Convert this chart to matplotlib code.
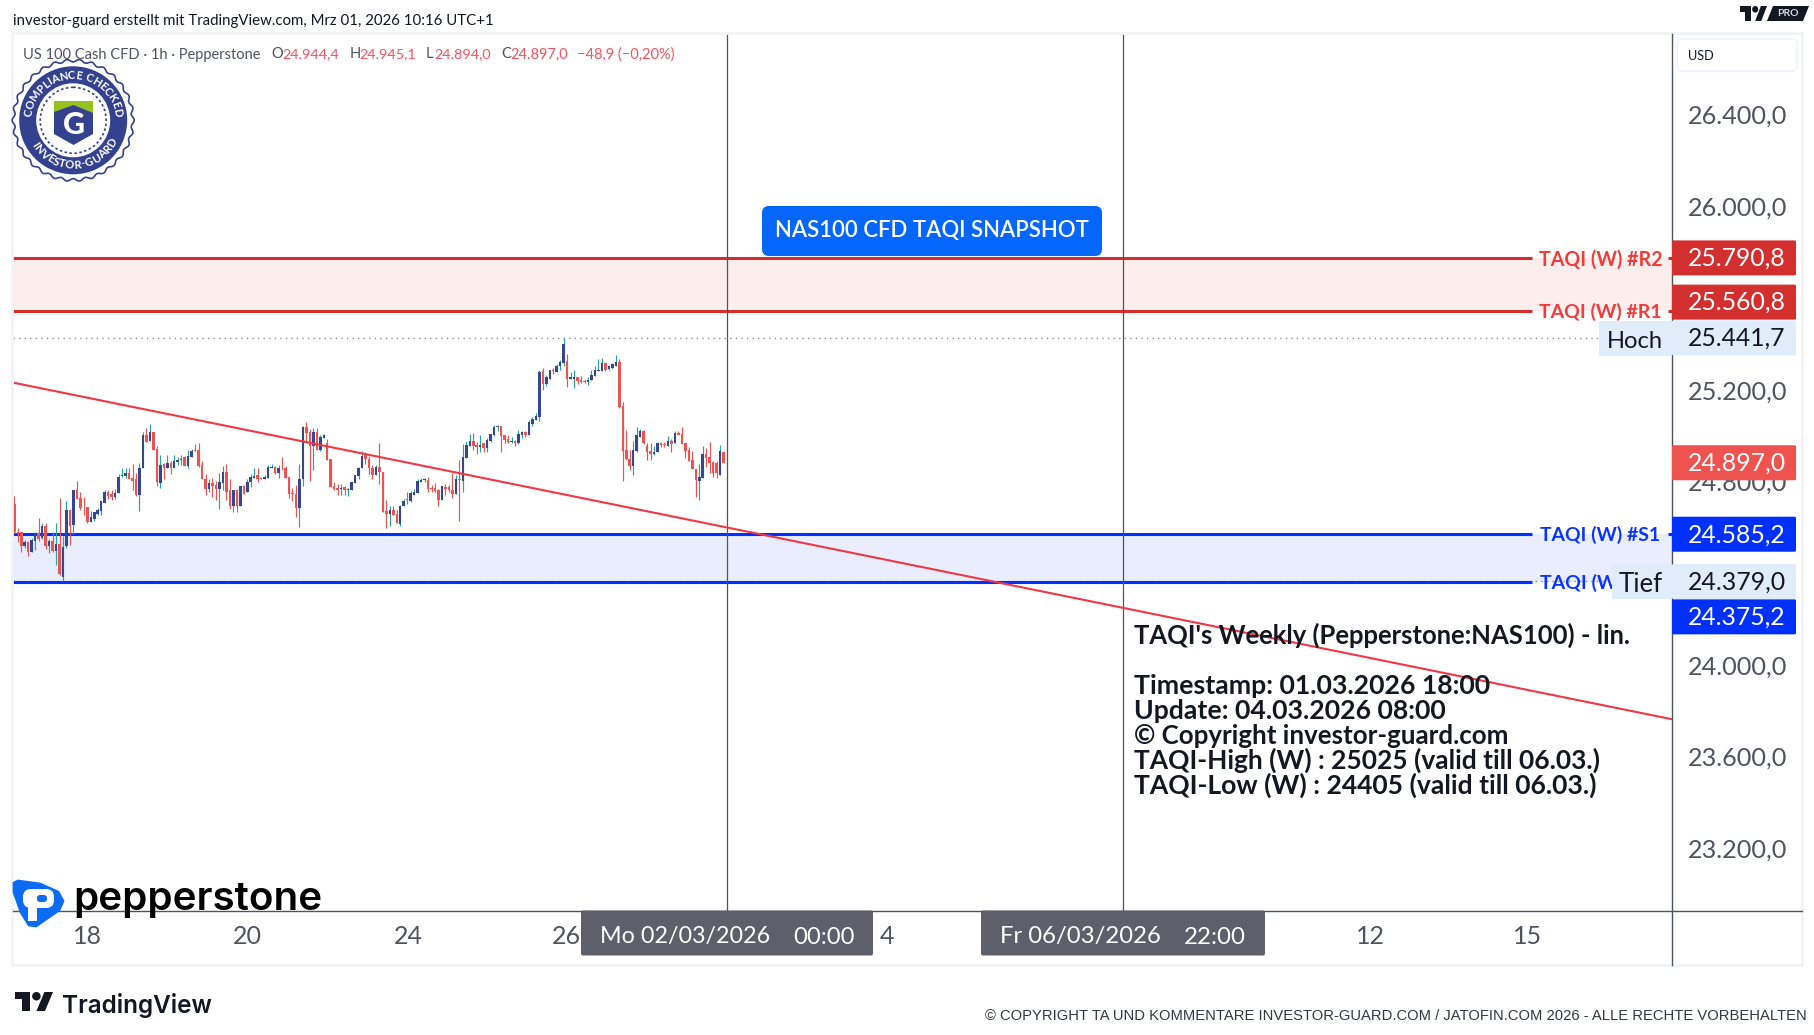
import numpy as np
import matplotlib
matplotlib.use("Agg")
import matplotlib.pyplot as plt
from matplotlib.patches import Polygon, Circle, FancyBboxPatch, Rectangle
from matplotlib.transforms import ScaledTranslation

plt.rcParams['font.family'] = ['Lato', 'DejaVu Sans']

opens = [24719,24595,24595,24536,24553,24509,24557,24591,24570,24620,
 24536,24557,24514,24544,24400,24536,24693,24627,24776,24745,
 24706,24706,24640,24653,24675,24688,24723,24771,24762,24749,
 24767,24841,24841,24854,24832,24824,24758,24873,25020,24994,
 25033,24958,24810,24893,24876,24898,24876,24902,24911,24920,
 24885,24924,24954,24954,24889,24828,24784,24810,24802,24784,
 24810,24858,24780,24710,24776,24710,24797,24771,24815,24832,
 24845,24832,24824,24832,24876,24880,24854,24876,24876,24837,
 24767,24762,24701,24828,25055,25033,24968,25033,24954,25007,
 24985,24915,24797,24789,24784,24793,24776,24780,24810,24841,
 24872,24933,24915,24876,24845,24880,24858,24688,24675,24693,
 24675,24631,24710,24741,24732,24758,24767,24815,24820,24823,
 24789,24789,24780,24736,24793,24793,24780,24762,24828,24819,
 24919,24972,24994,24976,24967,24985,24963,24994,25020,25055,
 25059,25020,25002,24989,24994,24985,25020,25033,25020,25068,
 25085,25098,25299,25242,25264,25303,25295,25317,25334,25343,
 25264,25264,25269,25260,25255,25251,25260,25277,25299,25299,
 25334,25308,25312,25321,25338,25146,24954,24915,24885,24950,
 25011,25037,24972,24950,24937,24946,24985,24981,24972,24994,
 24985,25029,25024,24985,24954,24911,24871,24819,24832,24937,
 24924,24902,24898,24845,24944]
highs = [24754,24613,24595,24562,24556,24569,24595,24658,24632,24632,
 24566,24597,24636,24745,24576,24728,24693,24776,24819,24771,
 24749,24706,24688,24680,24701,24732,24776,24780,24776,24784,
 24850,24874,24872,24872,24893,24853,24896,25033,25050,25064,
 25033,24972,24933,24898,24933,24906,24933,24924,24933,24925,
 24954,24957,24981,24985,24906,24850,24824,24832,24819,24854,
 24885,24893,24824,24780,24784,24797,24802,24828,24850,24872,
 24872,24837,24845,24889,24893,24885,24889,24920,24885,24837,
 24789,24802,24893,25059,25077,25046,25050,25050,25020,25024,
 25002,24915,24815,24806,24806,24797,24789,24815,24845,24880,
 24950,24946,24928,24889,24889,24985,24858,24736,24710,24710,
 24693,24714,24741,24771,24775,24784,24828,24832,24832,24837,
 24802,24810,24784,24797,24806,24802,24854,24845,24911,24981,
 24994,25024,25029,24989,25020,24985,25007,25024,25063,25063,
 25059,25020,25020,25011,24998,25042,25037,25037,25085,25098,
 25116,25303,25312,25282,25303,25312,25330,25347,25442,25373,
 25295,25303,25273,25277,25264,25273,25303,25321,25351,25356,
 25334,25325,25334,25369,25351,25164,25042,24954,24994,25055,
 25046,25042,24985,24985,24972,24989,24989,24989,25015,25002,
 25037,25037,25055,24985,24967,24950,24871,24893,24972,24963,
 24989,24906,24906,24976,24945]
lows = [24591,24550,24509,24527,24492,24509,24518,24557,24566,24522,
 24505,24509,24453,24409,24379,24527,24540,24584,24741,24693,
 24671,24636,24640,24645,24671,24671,24723,24741,24736,24741,
 24767,24834,24831,24824,24780,24754,24688,24873,24989,24992,
 24954,24797,24789,24824,24872,24850,24873,24889,24889,24883,
 24876,24922,24947,24880,24824,24758,24771,24749,24736,24697,
 24780,24736,24697,24684,24684,24710,24762,24771,24793,24831,
 24815,24824,24824,24832,24872,24850,24832,24867,24832,24745,
 24728,24662,24618,24797,24989,24819,24867,24954,24950,25007,
 24911,24793,24780,24758,24758,24758,24754,24780,24810,24828,
 24872,24893,24850,24828,24845,24806,24684,24614,24623,24671,
 24632,24620,24710,24719,24727,24758,24765,24815,24815,24771,
 24771,24771,24710,24736,24758,24771,24745,24762,24642,24771,
 24919,24972,24954,24937,24946,24946,24946,24989,25015,25037,
 24946,24985,24985,24985,24972,24981,25007,25011,25020,25059,
 25085,25081,25216,25234,25264,25286,25295,25303,25317,25229,
 25264,25221,25242,25247,25247,25238,25260,25277,25299,25299,
 25299,25303,25308,25317,25138,24819,24911,24867,24845,24946,
 25011,24981,24911,24911,24933,24946,24967,24967,24972,24946,
 24985,25020,24981,24919,24906,24871,24749,24736,24832,24880,
 24854,24837,24832,24845,24894]
closes = [24595,24586,24536,24553,24509,24560,24591,24566,24620,24536,
 24557,24514,24544,24413,24531,24693,24623,24776,24741,24701,
 24702,24640,24662,24680,24693,24728,24771,24754,24749,24767,
 24837,24845,24854,24824,24819,24758,24876,25020,24989,25033,
 24954,24815,24889,24872,24898,24876,24906,24911,24915,24885,
 24928,24950,24950,24885,24824,24784,24810,24797,24784,24815,
 24858,24771,24710,24776,24710,24797,24762,24815,24837,24841,
 24828,24824,24837,24880,24880,24854,24872,24872,24832,24762,
 24762,24701,24828,25055,25029,24968,25033,24954,25011,25016,
 24911,24793,24784,24780,24789,24776,24784,24815,24845,24876,
 24928,24915,24872,24845,24880,24858,24684,24675,24693,24671,
 24632,24710,24732,24736,24767,24771,24819,24823,24825,24784,
 24784,24775,24736,24797,24784,24780,24762,24828,24823,24924,
 24976,24994,24972,24967,24976,24963,24998,25024,25055,25059,
 25015,24998,24989,24994,24985,25024,25033,25020,25077,25090,
 25103,25295,25242,25269,25303,25299,25321,25338,25413,25264,
 25269,25269,25255,25251,25251,25260,25282,25303,25303,25334,
 25303,25317,25330,25338,25142,24950,24915,24885,24954,25020,
 25037,24985,24946,24937,24946,24985,24976,24976,24994,24981,
 25029,25020,24981,24950,24906,24871,24823,24837,24937,24919,
 24898,24854,24854,24950,24897]

R_LEVELS = [25790.8, 25560.8]
S_LEVELS = [24585.2, 24375.2]
EXTREMES = [25441.7, 24379.0]
LAST = 24897.0
TREND_PRICES = [25246.7, 23778.0]
Y_TICKS_ALL = [26400, 26000, 25600, 25200, 24800, 24400, 24000, 23600, 23200]
DAY_TICK_BARS = [21.0, 66.9, 113.2, 158.9, 251, 390, 435.3]
DAY_TICK_LABELS = ['18', '20', '24', '26', '4', '12', '15']
CURSOR_BARS = [205, 319]

W, H = 1814, 1035
L, R_, T, B = 13, 1672, 34, 911
PX_BAR = 3.477
X0 = 14.3
PX_PRICE = 0.2292

def bar_of(px):
    return (px - X0) / PX_BAR
def y_px(p):
    return 257.9 + (25790.8 - p) * PX_PRICE
def price_of(y):
    return 25790.8 - (y - 257.9) / PX_PRICE

UP_BODY, UP_WICK, DOWN = '#374594', '#26a69a', '#ef5350'
GREY = '#50535e'
RED_LINE, BLUE_LINE = '#d32f2f', '#0030ff'

fig = plt.figure(figsize=(W / 100, H / 100), dpi=100, facecolor='white')
ax = fig.add_axes([L / W, 1 - B / H, (R_ - L) / W, (B - T) / H])
ax.set_xlim(bar_of(L), bar_of(R_))
ax.set_ylim(price_of(B), price_of(T))
for s in ax.spines.values():
    s.set_visible(False)

# zones
xl, xr = bar_of(L), bar_of(R_)
ax.fill_between([xl, xr], R_LEVELS[1], R_LEVELS[0], color='#fdeeee', lw=0, zorder=1)
ax.fill_between([xl, xr], S_LEVELS[1], S_LEVELS[0], color='#e9edfd', lw=0, zorder=1)

# extremes dotted
ax.hlines(EXTREMES[0], xl, bar_of(1599), color='#8a8d96', lw=1, linestyles=(0, (1, 3)), zorder=1.5)
ax.hlines(EXTREMES[1], xl, bar_of(1612), color='#8a8d96', lw=1, linestyles=(0, (1, 3)), zorder=1.5)

# level lines with gaps for labels
for lv, col in [(R_LEVELS[0], RED_LINE), (R_LEVELS[1], RED_LINE), (S_LEVELS[0], BLUE_LINE), (S_LEVELS[1], BLUE_LINE)]:
    ax.hlines(lv, xl, bar_of(1532), color=col, lw=2.2, zorder=2)
    ax.hlines(lv, bar_of(1668), xr, color=col, lw=2.2, zorder=2)

# cursors
for c in CURSOR_BARS:
    ax.axvline(c, color=GREY, lw=0.9, zorder=2)

# candles
o, h, l, c = map(np.array, (opens, highs, lows, closes))
idx = np.arange(len(o))
up = c >= o
ax.vlines(idx[up], l[up], h[up], color=UP_WICK, lw=0.85, zorder=3)
ax.vlines(idx[~up], l[~up], h[~up], color=DOWN, lw=0.85, zorder=3)
ax.bar(idx[up], np.maximum(c[up] - o[up], 3), bottom=o[up], width=0.72, color=UP_BODY, lw=0, zorder=3.2)
ax.bar(idx[~up], np.maximum(o[~up] - c[~up], 3), bottom=c[~up], width=0.72, color=DOWN, lw=0, zorder=3.2)

# trend line
ax.plot([xl, xr], TREND_PRICES, color='#f23645', lw=1.5, zorder=4, solid_capstyle='butt')

# axes
ax.yaxis.tick_right()
ax.set_yticks(Y_TICKS_ALL)
ax.set_yticklabels([f'{v:,.1f}'.replace(',', 'X').replace('.', ',').replace('X', '.') for v in Y_TICKS_ALL],
                   fontsize=18.2, color=GREY)
ax.tick_params(axis='y', length=0, pad=11.5)
up_shift = ScaledTranslation(0, 0.037, fig.dpi_scale_trans)
for lbl in ax.get_yticklabels():
    lbl.set_transform(lbl.get_transform() + up_shift)
ax.set_xticks(DAY_TICK_BARS)
ax.set_xticklabels(DAY_TICK_LABELS, fontsize=18, color=GREY)
ax.tick_params(axis='x', length=0, pad=10)

# overlay in figure pixels
ov = fig.add_axes([0, 0, 1, 1], facecolor='none')
ov.set_xlim(0, W)
ov.set_ylim(H, 0)
ov.axis('off')
rend = fig.canvas.get_renderer()

def put(x0, x1, y, s, color='black', weight='normal', size=14, family=None, z=20):
    kw = {} if family is None else {'family': family}
    t = ov.text(x0, y, s, color=color, fontsize=size, fontweight=weight, ha='left', va='center_baseline', zorder=z, **kw)
    if x1 is not None:
        w = t.get_window_extent(rend).width
        t.set_fontsize(size * (x1 - x0) / w)
    return t

# frame
ov.add_patch(Rectangle((12, 33), 1790, 932, fc='none', ec='#f2f3f4', lw=2, zorder=5))
ov.plot([L, 1802], [B - 0.5, B - 0.5], color=GREY, lw=1, zorder=6)
ov.plot([R_, R_], [T, 965], color=GREY, lw=1, zorder=6)

# top header
put(13, 492, 19.5, 'investor-guard erstellt mit TradingView.com, Mrz 01, 2026 10:16 UTC+1', color='#131722', size=11)
put(23, 262, 53, 'US 100 Cash CFD · 1h · Pepperstone', color=GREY, size=10.5)
for lab, lx, val, x0, x1 in [('O', 271, '24.944,4', 282, 339), ('H', 350, '24.945,1', 359, 416),
                             ('L', 426, '24.894,0', 434, 491), ('C', 501, '24.897,0', 510, 568)]:
    put(lx, None, 53, lab, color=GREY, size=10.5)
    put(x0, x1, 53, val, color='#f7525f', size=10.5)
put(577, 675, 53, '−48,9 (−0,20%)', color='#f7525f', size=10.5)

# USD box
ov.add_patch(FancyBboxPatch((1677, 39), 120, 32, boxstyle='round,pad=0,rounding_size=5', fc='white', ec='#f0f3fa', lw=1.5, zorder=8))
put(1688, 1714, 54.5, 'USD', color='#131722', size=12.5)

# price tags
def tag(price, text, bg, fg, shift=0, x0=R_, x1=1796):
    yc = y_px(price) + shift
    ov.add_patch(FancyBboxPatch((x0, yc - 17.5), x1 - x0, 35, boxstyle='round,pad=0,rounding_size=1.5', fc=bg, ec='none', zorder=10))
    put(1688, 1786, yc - 1.6, text, color=fg, size=18, z=12)

tag(EXTREMES[0], '25.441,7', '#e1ecfa', '#131722')
tag(EXTREMES[1], '24.379,0', '#e1ecfa', '#131722')
tag(R_LEVELS[0], '25.790,8', RED_LINE, 'white')
tag(R_LEVELS[1], '25.560,8', RED_LINE, 'white', shift=-8.5)
tag(LAST, '24.897,0', '#ef5350', 'white')
tag(S_LEVELS[0], '24.585,2', BLUE_LINE, 'white')
tag(S_LEVELS[1], '24.375,2', BLUE_LINE, 'white', shift=34.5)

# level labels
put(1539, 1662, y_px(R_LEVELS[0]) - 0.5, 'TAQI (W) #R2', color='#f23b3b', weight='bold', size=13)
put(1539, 1661, y_px(R_LEVELS[1]) - 0.5, 'TAQI (W) #R1', color='#f23b3b', weight='bold', size=13)
put(1540, 1660, y_px(S_LEVELS[0]) - 0.5, 'TAQI (W) #S1', color='#0a35ff', weight='bold', size=13)
put(1540, 1660, y_px(S_LEVELS[1]) - 0.5, 'TAQI (W) #S2', color='#0a35ff', weight='bold', size=13, z=7)

ov.add_patch(FancyBboxPatch((1599, 321), 73, 35, boxstyle='round,pad=0,rounding_size=1.5', fc='#e1ecfa', ec='none', zorder=9))
put(1607, 1663, 339, 'Hoch', color='#131722', size=18)
ov.add_patch(FancyBboxPatch((1612, 564), 60, 35, boxstyle='round,pad=0,rounding_size=1.5', fc='#e1ecfa', ec='none', zorder=9))
put(1619, 1663, 582, 'Tief', color='#131722', size=18)

# button
ov.add_patch(FancyBboxPatch((762, 206), 340, 50, boxstyle='round,pad=0,rounding_size=7', fc='#0466fb', ec='none', zorder=10))
put(775, 1089, 229, 'NAS100 CFD TAQI SNAPSHOT', color='white', weight='semibold', size=17, z=12)

# note
note = ["TAQI's Weekly (Pepperstone:NAS100) - lin.", 'Timestamp: 01.03.2026 18:00', 'Update: 04.03.2026 08:00',
        '© Copyright investor-guard.com', 'TAQI-High (W) : 25025 (valid till 06.03.)', 'TAQI-Low (W) : 24405 (valid till 06.03.)']
note_y = [633, 684, 709, 734, 758.5, 783.5]
note_x1 = [1629, 1490, 1446, 1508, 1601, 1597]
for s, y, x1 in zip(note, note_y, note_x1):
    put(1134, x1, y, s, color='#131722', weight='bold', size=18)

# cursor time boxes
for x0, x1, d, dx0, dx1, tm, tx0, tx1 in [(581, 873, 'Mo 02/03/2026', 600, 770, '00:00', 793, 854),
                                           (981, 1265, 'Fr 06/03/2026', 1000, 1161, '22:00', 1184, 1246)]:
    ov.add_patch(FancyBboxPatch((x0, 910.5), x1 - x0, 45, boxstyle='round,pad=0,rounding_size=2', fc='#5d606b', ec='none', zorder=10))
    put(dx0, dx1, 935, d, color='white', size=18)
    put(tx0, tx1, 935, tm, color='white', size=18)

# footer
put(985, 1805, 1015, '© COPYRIGHT TA UND KOMMENTARE INVESTOR-GUARD.COM / JATOFIN.COM 2026 - ALLE RECHTE VORBEHALTEN',
    color='#333740', size=10.5, family='Liberation Sans')

# TradingView marks
def tv_mark(x, y, sx, sy, col, z=20):
    ov.add_patch(Polygon([(x + a * sx, y + b * sy) for a, b in [(0, 0), (14, 0), (14, 18), (7, 18), (7, 7), (0, 7)]], fc=col, ec='none', zorder=z))
    ov.add_patch(Polygon([(x + a * sx, y + b * sy) for a, b in [(20, 18), (27.5, 0), (35.5, 0), (28, 18)]], fc=col, ec='none', zorder=z))
    th = np.linspace(0, 2 * np.pi, 40)
    ov.add_patch(Polygon(np.c_[x + (20 + 4 * np.cos(th)) * sx, y + (4 + 4 * np.sin(th)) * sy], fc=col, ec='none', zorder=z))

tv_mark(15, 992, 1.07, 1.06, '#131722')
put(62, 212, 1003, 'TradingView', color='#131722', weight='semibold', size=18, family='Inter')
tv_mark(1740, 6, 0.76, 0.83, '#131722')
ov.add_patch(Polygon([(1773, 6), (1809, 6), (1803, 21), (1767, 21)], fc='#131722', ec='none', zorder=20))
ov.text(1788, 13.5, 'PRO', color='#d8dae0', fontsize=7.5, fontweight='bold', ha='center', va='center', zorder=21)

# Pepperstone logo
ov.add_patch(Polygon([(14, 883), (18, 881), (40, 884), (58, 892), (63, 901), (59, 910), (46, 919), (36, 926), (29, 925), (21, 912), (14, 892)],
                     fc='#0a6cf5', ec='#0a6cf5', lw=2.0, joinstyle='round', zorder=20))
ov.add_patch(FancyBboxPatch((23, 889), 31, 19, boxstyle='round,pad=0,rounding_size=8', fc='white', ec='none', zorder=21))
ov.add_patch(FancyBboxPatch((37, 895), 10, 7, boxstyle='round,pad=0,rounding_size=3', fc='#0a6cf5', ec='none', zorder=22))
ov.add_patch(Rectangle((28, 895), 9, 26, fc='white', ec='none', zorder=22))
put(73, 322, 896, 'pepperstone', color='black', weight='semibold', size=28, family='Inter')

# compliance badge
cx, cy = 73.2, 120.3
NAVY = '#34418f'
th = np.linspace(0, 2 * np.pi, 720)
rr = 59.7 + 1.3 * np.cos(30 * th)
ov.add_patch(Polygon(np.c_[cx + rr * np.cos(th), cy + rr * np.sin(th)], fc='white', ec=NAVY, lw=1.2, zorder=20))
ov.add_patch(Circle((cx, cy), 54, fc=NAVY, ec='none', zorder=21))
ov.add_patch(Circle((cx, cy), 37, fc='white', ec='none', zorder=22))
ov.add_patch(Circle((cx, cy), 33, fc='none', ec=NAVY, lw=1.2, ls=(0, (1.5, 1.5)), zorder=23))

def arc_text(s, a0, a1, r, top=True):
    widths = []
    for ch in s:
        t = ov.text(0, 0, ch if ch != ' ' else 'I', fontsize=8, fontweight='bold')
        widths.append(t.get_window_extent(rend).width + 0.8)
        t.remove()
    w = np.array(widths)
    pos = (np.cumsum(w) - w / 2) / w.sum()
    for ch, f in zip(s, pos):
        a = a0 + (a1 - a0) * f
        rad = np.radians(a)
        rot = a - 90 if top else a + 90
        ov.text(cx + r * np.cos(rad), cy - r * np.sin(rad), ch, color='white', fontsize=8, fontweight='bold',
                ha='center', va='center', rotation=rot, rotation_mode='anchor', zorder=24)

arc_text('COMPLIANCE CHECKED', 175, 5, 45, True)
arc_text('INVESTOR-GUARD', 210, 336, 45, False)
ov.add_patch(Polygon([(54, 101), (93, 101), (93, 134), (73.5, 145), (54, 134)], fc=NAVY, ec='none', zorder=24))
ov.add_patch(Polygon([(54, 101), (93, 101), (93, 113), (73.5, 105), (54, 112)], fc='#96c11f', ec='none', zorder=25))
ov.text(73.5, 124.5, 'G', color='white', fontsize=22, fontweight='black', ha='center', va='center', zorder=25)

fig.savefig('out.png', dpi=100, facecolor='white')
